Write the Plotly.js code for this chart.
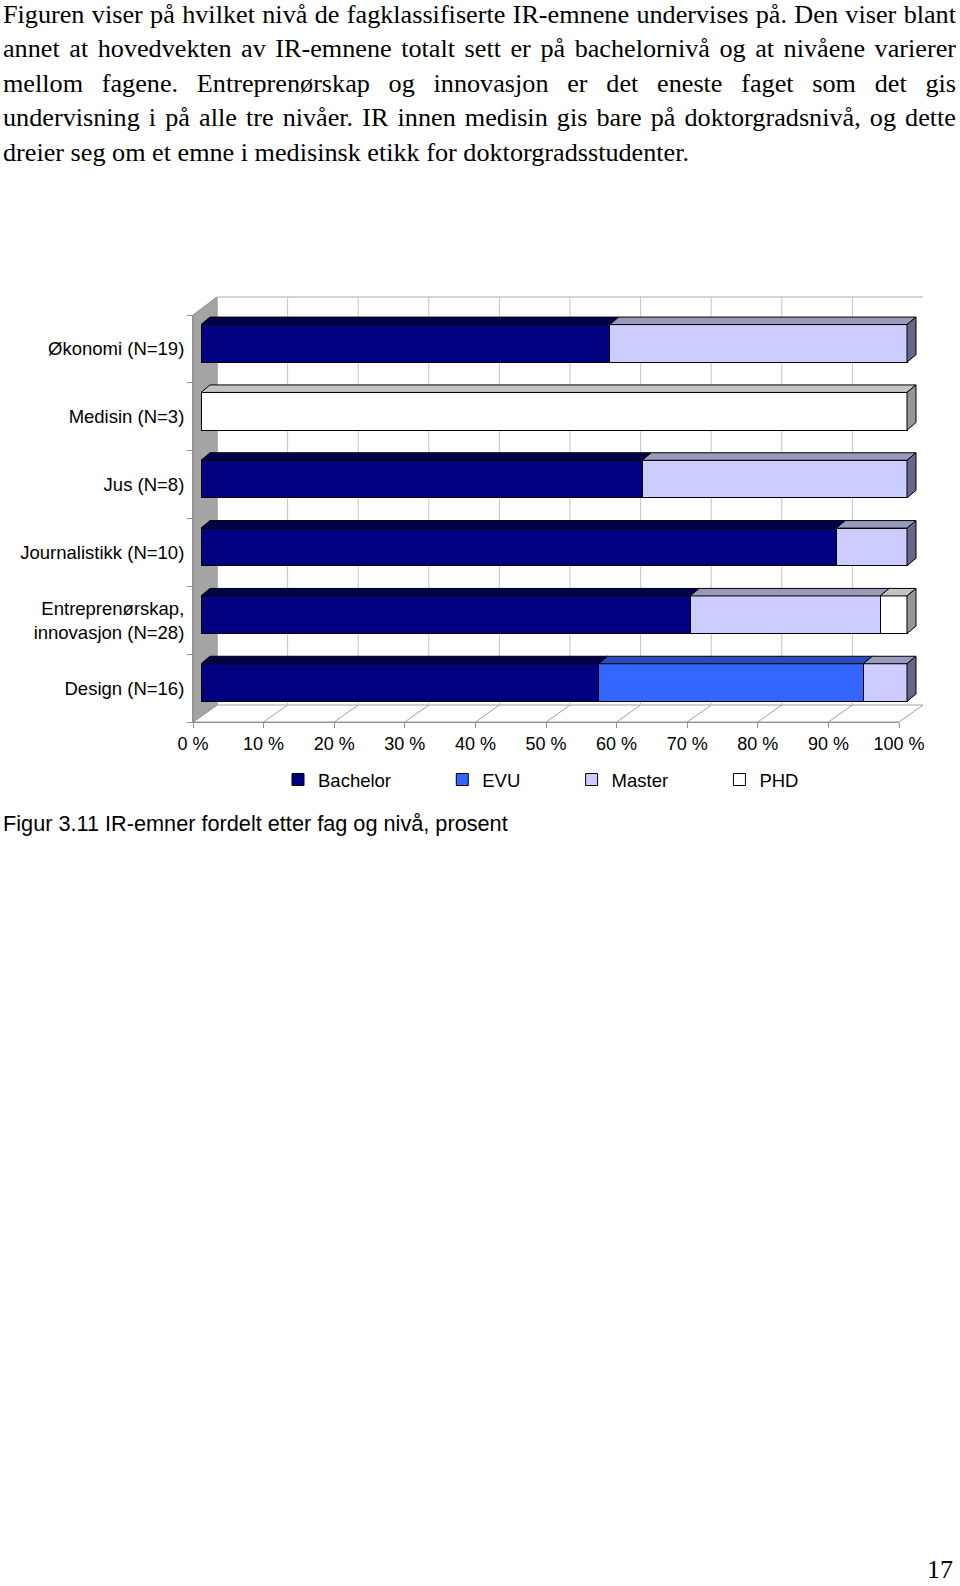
<!DOCTYPE html>
<html>
<head>
<meta charset="utf-8">
<script src="https://cdn.plot.ly/plotly-3.0.1.min.js"></script>
<style>
  html, body { margin: 0; padding: 0; background: #ffffff; }
  #wrap { position: relative; width: 960px; height: 1586px; overflow: hidden; }
  #chart { position: absolute; left: 0; top: 0; width: 960px; height: 1586px; }
  #para { position: absolute; left: 3px; top: -2px; width: 953px; z-index: 5;
          font-family: "Liberation Serif", "Times New Roman", serif; font-size: 26.2px;
          line-height: 34.4px; color: #000; }
  #para .j { text-align: justify; text-align-last: justify; }
  #para .l { text-align: left; }
</style>
</head>
<body>
<div id="wrap">
  <div id="chart"></div>
  <div id="para">
    <div class="j">Figuren viser på hvilket nivå de fagklassifiserte IR-emnene undervises på. Den viser blant</div>
    <div class="j">annet at hovedvekten av IR-emnene totalt sett er på bachelornivå og at nivåene varierer</div>
    <div class="j">mellom fagene. Entreprenørskap og innovasjon er det eneste faget som det gis</div>
    <div class="j">undervisning i på alle tre nivåer. IR innen medisin gis bare på doktorgradsnivå, og dette</div>
    <div class="l">dreier seg om et emne i medisinsk etikk for doktorgradsstudenter.</div>
  </div>
</div>
<script>
// ---------------- data ----------------
const categories = ['Økonomi (N=19)', 'Medisin (N=3)', 'Jus (N=8)', 'Journalistikk (N=10)',
                    'Entreprenørskap,<br>innovasjon (N=28)', 'Design (N=16)'];
const seriesNames = ['Bachelor', 'EVU', 'Master', 'PHD'];
const bachelor = [57.9, 0, 62.5, 90, 69.3, 56.3];
const evu      = [0, 0, 0, 0, 0, 37.5];
const master   = [42.1, 0, 37.5, 10, 26.9, 6.2];
const phd      = [0, 100, 0, 0, 3.8, 0];
const tickValues = [0, 10, 20, 30, 40, 50, 60, 70, 80, 90, 100];
const tickLabels = ['0 %', '10 %', '20 %', '30 %', '40 %', '50 %', '60 %', '70 %', '80 %', '90 %', '100 %'];

// ---------------- styles ----------------
const frontColors = ['#000080', '#3366FF', '#CCCCFF', '#FFFFFF'];
const topColors   = ['#00004a', '#264cbf', '#9999bb', '#c4c4c4'];
const sideColors  = ['#000040', '#1a3399', '#666688', '#969696'];
const values = [bachelor, evu, master, phd];

const W = 960, H = 1586;
const fx = p => p / W;
const fy = p => 1 - p / H;

// geometry (pixels)
const FLOOR_L = 193, FLOOR_R = 899, FLOOR_Y = 722;   // front edge of floor
const DEPTH_X = 24, DEPTH_Y = 17;                      // box depth
const WALL_TOP = 297;
const BAR_L = 201, BAR_R = 907;                        // bar front face 0..100 %
const CAT_TOP = 315;                                   // front category axis top
const BAR_SHIFT_Y = 5.5;
const BAR_W = 0.555;
const EXTRA = 24;                                      // room for side faces
const pxPerUnitX = (BAR_R - BAR_L) / 100;
const catAxisH = FLOOR_Y - CAT_TOP;
const pxPerCat = catAxisH / categories.length;
const DX = 9 / pxPerUnitX;      // bar top-face depth in data units
const DY = 7.5 / pxPerCat;

const idx = categories.map((c, i) => i);
const traces = [];

// bars (front faces)
values.forEach((v, s) => {
  traces.push({
    type: 'bar', orientation: 'h', name: seriesNames[s] + (s < 3 ? '\u00a0'.repeat(9) : ''),
    x: v, y: idx, xaxis: 'x3', yaxis: 'y3', width: BAR_W,
    marker: { color: frontColors[s], line: { color: '#000000', width: 1 } },
    hoverinfo: 'skip'
  });
});

// top faces and side faces, computed from the data
const cum = categories.map(() => 0);
const lastSeries = categories.map(() => -1);
values.forEach((v, s) => {
  const xs = [], ys = [];
  v.forEach((val, i) => {
    const x0 = cum[i], x1 = cum[i] + val;
    if (val > 0) {
      const yT = i - BAR_W / 2;
      xs.push(x0, x1, x1 + DX, x0 + DX, x0, null);
      ys.push(yT, yT, yT - DY, yT - DY, yT, null);
      lastSeries[i] = s;
    }
    cum[i] = x1;
  });
  traces.push({
    type: 'scatter', mode: 'lines', x: xs, y: ys, xaxis: 'x3', yaxis: 'y3',
    fill: 'toself', fillcolor: topColors[s], line: { color: '#000000', width: 1 },
    showlegend: false, hoverinfo: 'skip'
  });
});
seriesNames.forEach((n, s) => {
  const xs = [], ys = [];
  categories.forEach((c, i) => {
    if (lastSeries[i] === s) {
      const xe = cum[i], yT = i - BAR_W / 2, yB = i + BAR_W / 2;
      xs.push(xe, xe + DX, xe + DX, xe, xe, null);
      ys.push(yT, yT - DY, yB - DY, yB, yT, null);
    }
  });
  if (xs.length) traces.push({
    type: 'scatter', mode: 'lines', x: xs, y: ys, xaxis: 'x3', yaxis: 'y3',
    fill: 'toself', fillcolor: sideColors[s], line: { color: '#000000', width: 1 },
    showlegend: false, hoverinfo: 'skip'
  });
});

// ---------------- decorative 3D box ----------------
const P = (x, y) => fx(x) + ',' + fy(y);
const floorPxPerUnit = (FLOOR_R - FLOOR_L) / 100;
const depthUnits = DEPTH_X / floorPxPerUnit;
const shapes = [
  // floor
  { type: 'path', xref: 'paper', yref: 'paper', layer: 'below',
    path: 'M' + P(FLOOR_L, FLOOR_Y) + 'L' + P(FLOOR_R, FLOOR_Y) + 'L' + P(FLOOR_R + DEPTH_X, FLOOR_Y - DEPTH_Y) +
          'L' + P(FLOOR_L + DEPTH_X, FLOOR_Y - DEPTH_Y) + 'Z',
    fillcolor: '#ffffff', line: { color: '#a0a0a0', width: 1 } },
  // left wall
  { type: 'path', xref: 'paper', yref: 'paper', layer: 'below',
    path: 'M' + P(FLOOR_L, CAT_TOP) + 'L' + P(FLOOR_L + DEPTH_X, WALL_TOP) +
          'L' + P(FLOOR_L + DEPTH_X, FLOOR_Y - DEPTH_Y) + 'L' + P(FLOOR_L, FLOOR_Y) + 'Z',
    fillcolor: '#a4a4a4', line: { color: '#8a8a8a', width: 1 } },
  // back wall top edge
  { type: 'line', xref: 'paper', yref: 'paper', layer: 'below',
    x0: fx(FLOOR_L + DEPTH_X), x1: fx(FLOOR_R + DEPTH_X), y0: fy(WALL_TOP), y1: fy(WALL_TOP),
    line: { color: '#a8a8a8', width: 1 } }
];
tickValues.forEach(v => {
  // floor depth lines
  shapes.push({ type: 'line', xref: 'x2', yref: 'paper', layer: 'below',
    x0: v, x1: v + depthUnits, y0: fy(FLOOR_Y), y1: fy(FLOOR_Y - DEPTH_Y),
    line: { color: '#a0a0a0', width: 1 } });
  // back wall gridlines
  shapes.push({ type: 'line', xref: 'x2', yref: 'paper', layer: 'below',
    x0: v + depthUnits, x1: v + depthUnits, y0: fy(FLOOR_Y - DEPTH_Y), y1: fy(WALL_TOP),
    line: { color: (v === 0 || v === 100) ? '#a8a8a8' : '#c4c4c4', width: 1 } });
});

const font = { family: 'Liberation Sans, Arial, sans-serif', size: 18, color: '#000000' };
const labelFont = { family: 'Liberation Sans, Arial, sans-serif', size: 18.5, color: '#000000' };

const layout = {
  width: W, height: H,
  margin: { l: 0, r: 0, t: 0, b: 0 },
  paper_bgcolor: '#ffffff', plot_bgcolor: 'rgba(0,0,0,0)',
  font: font,
  barmode: 'stack',
  showlegend: true,
  legend: { orientation: 'h', x: fx(278), xanchor: 'left', y: fy(780), yanchor: 'middle',
            font: labelFont, bgcolor: 'rgba(0,0,0,0)', traceorder: 'normal' },
  xaxis: { visible: false, domain: [0, 0.01], anchor: 'y' },
  yaxis: { visible: false, domain: [0, 0.01], anchor: 'x' },
  // floor front edge with % labels, and front category axis
  xaxis2: { domain: [fx(FLOOR_L), fx(FLOOR_R)], range: [0, 100], anchor: 'y2',
            tickvals: tickValues, ticktext: tickLabels, ticks: 'outside', ticklen: 5, tickcolor: '#909090',
            showgrid: false, zeroline: false, showline: true, linecolor: '#909090', tickfont: font, fixedrange: true },
  yaxis2: { domain: [fy(FLOOR_Y), fy(CAT_TOP)], range: [categories.length - 0.5, -0.5], anchor: 'x2',
            tickvals: idx, ticktext: categories, ticks: '', showgrid: false, zeroline: false,
            showline: true, linecolor: '#909090', tickfont: labelFont, ticklabelstandoff: 4,
            minor: { tickvals: categories.map((c, i) => i - 0.5).concat([categories.length - 0.5]),
                     ticks: 'outside', ticklen: 5, tickcolor: '#909090', showgrid: false },
            fixedrange: true },
  // bars
  xaxis3: { domain: [fx(BAR_L), fx(BAR_R + EXTRA)], range: [0, 100 + EXTRA / pxPerUnitX], anchor: 'y3',
            visible: false, fixedrange: true },
  yaxis3: { domain: [fy(FLOOR_Y - BAR_SHIFT_Y), fy(CAT_TOP - BAR_SHIFT_Y)],
            range: [categories.length - 0.5, -0.5], anchor: 'x3', visible: false, fixedrange: true },
  shapes: shapes,
  annotations: [
    { xref: 'paper', yref: 'paper', x: fx(1), y: fy(823), xanchor: 'left', yanchor: 'middle',
      text: 'Figur 3.11 IR-emner fordelt etter fag og nivå, prosent', showarrow: false,
      font: { family: 'Liberation Sans, Arial, sans-serif', size: 21.7, color: '#000' } },
    { xref: 'paper', yref: 'paper', x: fx(955), y: 0, xanchor: 'right', yanchor: 'bottom',
      text: '17', showarrow: false,
      font: { family: 'Liberation Serif, Times New Roman, serif', size: 26, color: '#000' } }
  ]
};

Plotly.newPlot('chart', traces, layout, { staticPlot: true, displayModeBar: false });
</script>
</body>
</html>
